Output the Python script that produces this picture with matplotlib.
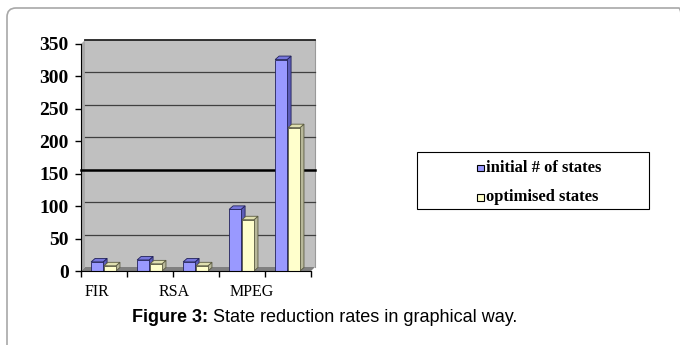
import matplotlib
matplotlib.use("Agg")
import matplotlib.pyplot as plt
from matplotlib.patches import Rectangle, Polygon, FancyBboxPatch
from matplotlib.transforms import IdentityTransform

# ---- data ----
categories = ["FIR", "", "RSA", "", "MPEG"]
series_names = ["initial # of states", "optimised states"]
initial_states = [14, 17, 14, 95, 326]
optimised_states = [8, 11, 8, 79, 221]
y_ticks = [0, 50, 100, 150, 200, 250, 300, 350]
shown_labels = ["FIR", "RSA", "MPEG"]
caption_bold = "Figure 3:"
caption_text = " State reduction rates in graphical way."

SERIF = ["Liberation Serif", "DejaVu Serif"]
SANS = ["Liberation Sans", "DejaVu Sans"]

W, H = 680, 345
fig = plt.figure(figsize=(6.8, 3.45), dpi=100)
fig.patch.set_facecolor("white")


def fx(px):
    return px / W


def fy(py):
    return 1 - py / H


# outer rounded frame (only top/left visible)
frame = FancyBboxPatch((7, -30), 681, (H - 8) + 30,
                       boxstyle="round,pad=0,rounding_size=9",
                       transform=IdentityTransform(), fill=False,
                       edgecolor="#a8a8a8", linewidth=1.2)
fig.patches.append(frame)

ax_left, ax_right, ax_top, ax_bottom = 81, 311, 44, 271
ax = fig.add_axes([fx(ax_left), fy(ax_bottom),
                   (ax_right - ax_left) / W, (ax_bottom - ax_top) / H])
ax.set_xlim(0, len(categories))
ax.set_ylim(0, 350)
ax.patch.set_alpha(0)

px_x = (ax_right - ax_left) / len(categories)
px_y = (ax_bottom - ax_top) / 350
ddx = 4 / px_x
ddy = 4 / px_y
n = len(categories)

# back wall, side wall, floor
ax.add_patch(Rectangle((ddx, ddy), n, 350, facecolor="#c0c0c0",
                       edgecolor="none", zorder=0, clip_on=False))
ax.add_patch(Polygon([(0, 0), (ddx, ddy), (ddx, 350 + ddy), (0, 350)],
                     facecolor="#a9a9a9", edgecolor="none", zorder=0, clip_on=False))
ax.add_patch(Polygon([(0, 0), (n, 0), (n + ddx, ddy), (ddx, ddy)],
                     facecolor="#808080", edgecolor="none", zorder=0, clip_on=False))
ax.plot([n + ddx, n + ddx], [ddy, 350 + ddy], color="#9a9a9a", lw=0.8,
        clip_on=False, zorder=1)

for v in y_ticks[1:]:
    if v == 150:
        ax.plot([0, n + ddx], [v + ddy, v + ddy], color="black", lw=1.8,
                clip_on=False, zorder=1)
    elif v == 350:
        ax.plot([ddx, n + ddx], [v + ddy, v + ddy], color="#222222", lw=1.3,
                clip_on=False, zorder=1)
    else:
        ax.plot([ddx, n + ddx], [v + ddy, v + ddy], color="#404040", lw=0.9,
                clip_on=False, zorder=1)

# 3D bars
bw = 0.26
bdx = 4 / px_x
bdy = 3.5 / px_y
series = [
    (initial_states, 0.22, "#9999ff", "#5c5cb8", "#7777dd", "#22225a"),
    (optimised_states, 0.50, "#ffffcc", "#b8b89a", "#e0e0b0", "#5a5a40"),
]
for k, (vals, off, face, side, top, edge) in enumerate(series):
    z = 3 + k
    for i, v in enumerate(vals):
        x0 = i + off
        ax.add_patch(Polygon([(x0 + bw, 0), (x0 + bw + bdx, bdy),
                              (x0 + bw + bdx, v + bdy), (x0 + bw, v)],
                             facecolor=side, edgecolor=edge, lw=0.6, zorder=z,
                             clip_on=False))
        ax.add_patch(Polygon([(x0, v), (x0 + bw, v), (x0 + bw + bdx, v + bdy),
                              (x0 + bdx, v + bdy)],
                             facecolor=top, edgecolor=edge, lw=0.6, zorder=z,
                             clip_on=False))
        ax.add_patch(Rectangle((x0, 0), bw, v, facecolor=face, edgecolor=edge,
                               lw=0.6, zorder=z, clip_on=False))

# axes styling
for s in ["top", "right"]:
    ax.spines[s].set_visible(False)
ax.spines["left"].set_color("black")
ax.spines["bottom"].set_color("black")
ax.spines["left"].set_zorder(6)
ax.spines["bottom"].set_zorder(6)
ax.set_yticks(y_ticks)
ax.set_yticklabels([str(v) for v in y_ticks], fontfamily=SERIF,
                   fontweight="bold", fontsize=14)
ax.set_xticks(range(n + 1))
ax.set_xticklabels([])
ax.tick_params(axis="both", direction="out", length=4, width=1, color="black")
ax.tick_params(axis="y", pad=5)

# category labels (as placed in the original)
for lab, xp in zip(shown_labels, [97, 174, 252]):
    fig.text(fx(xp), fy(292), lab, ha="center", va="center",
             fontfamily=SERIF, fontsize=11.5)

# legend
fig.patches.append(Rectangle((fx(417), fy(209)), (649 - 417) / W, (209 - 152) / H,
                             transform=fig.transFigure, fill=False,
                             edgecolor="black", lw=0.8))
leg_colors = ["#9999ff", "#ffffcc"]
for name, col, yp in zip(series_names, leg_colors, [168, 197]):
    fig.patches.append(Rectangle((fx(477), fy(yp + 3.5)), 7 / W, 7 / H,
                                 transform=fig.transFigure, facecolor=col,
                                 edgecolor="black", lw=0.8))
    fig.text(fx(486), fy(yp), name, ha="left", va="center",
             fontfamily=SERIF, fontweight="bold", fontsize=12)

# caption
t1 = fig.text(fx(132), fy(318), caption_bold, ha="left", va="center",
              fontfamily=SANS, fontweight="bold", fontsize=13)
fig.canvas.draw()
bb = t1.get_window_extent(renderer=fig.canvas.get_renderer())
fig.text(bb.x1 / W, fy(318), caption_text, ha="left", va="center",
         fontfamily=SANS, fontsize=13)

fig.savefig("out.png", dpi=100)
